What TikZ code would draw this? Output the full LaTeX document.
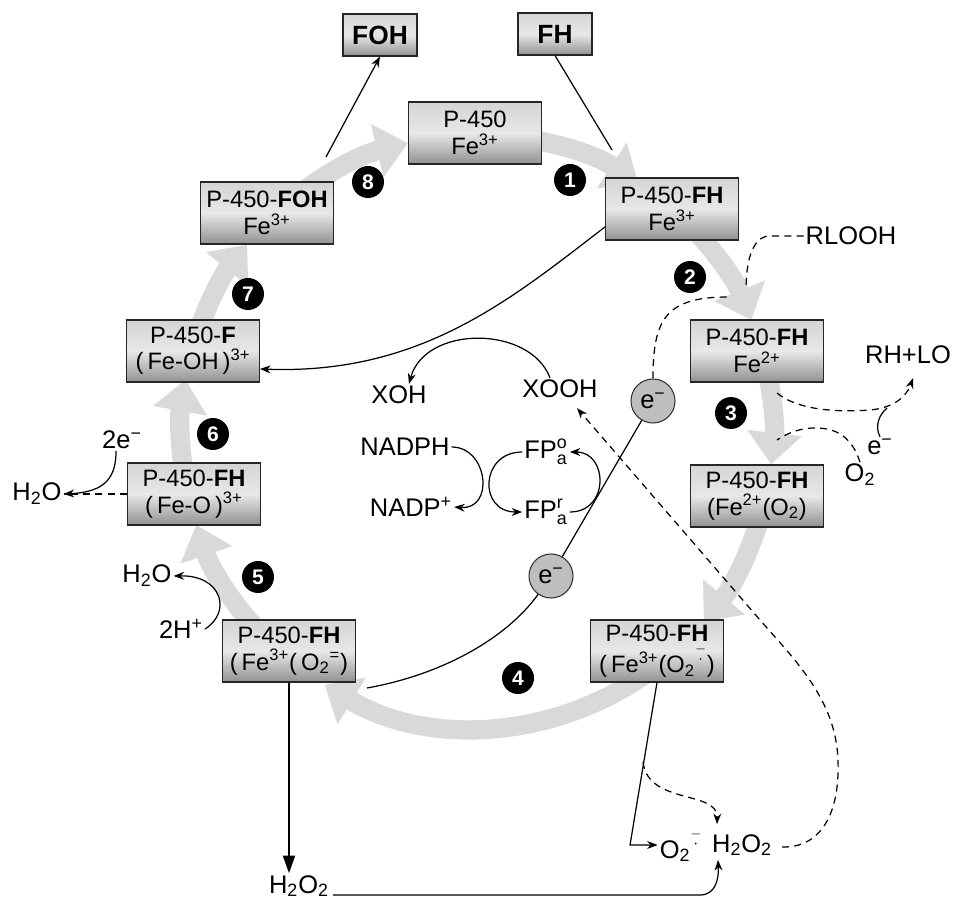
\documentclass[tikz,border=0pt]{standalone}
\usepackage{amsmath}
\usepackage{fontspec}
\setmainfont{Liberation Sans}
\usepackage{tikz}
\usetikzlibrary{arrows.meta, positioning, calc}
\definecolor{ringgray}{RGB}{217,217,217}
\definecolor{boxtop}{RGB}{212,212,212}
\definecolor{boxmid}{RGB}{232,232,232}
\definecolor{boxbot}{RGB}{145,145,145}
\definecolor{elecfill}{RGB}{190,190,190}
\newcommand\boxfont{\fontsize{13.5}{15}\selectfont}
\newcommand\lblfont{\fontsize{14.5}{16}\selectfont}
\newcommand\radminus{$^{\overset{-}{\cdot}}$}
\tikzset{
  enz/.style={
    rectangle, draw=black!85, line width=0.6pt,
    top color=boxtop, bottom color=boxbot, middle color=boxmid,
    minimum width=2.66cm, minimum height=1.24cm,
    inner sep=1pt, align=center, font=\boxfont
  },
  prod/.style={enz, minimum width=1.48cm, minimum height=0.84cm,
    font=\bfseries\fontsize{15}{16}\selectfont},
  num/.style={circle, fill=black, text=white, minimum size=0.64cm,
    inner sep=0pt, font=\bfseries\fontsize{12}{12}\selectfont},
  elec/.style={circle, draw=black!80, fill=elecfill, line width=0.6pt,
    minimum size=0.88cm, inner sep=0pt, font=\lblfont},
  lbl/.style={inner sep=1pt, font=\lblfont},
  ring/.style={draw=ringgray, line width=11pt,
    -{Triangle[width=30pt,length=18pt]}},
  ln/.style={line width=0.7pt},
  arr/.style={ln, -{Stealth[length=6pt,width=4.5pt]}},
  darr/.style={arr, dash pattern=on 4pt off 3pt},
  dsh/.style={ln, dash pattern=on 4pt off 3pt},
  bigarr/.style={ln, -{Triangle[length=10pt,width=7pt]}}
}
\begin{document}
\begin{tikzpicture}[x=0.02cm, y=-0.02cm]
  \useasboundingbox (0,0) rectangle (953,901);

  \coordinate (ctr) at (477,431);
  \foreach \a/\b in {-90/-57, -48.7/-22, -16/6.5, 13/40, 50.7/121,
                     130.5/161.5, 167.4/190, 195.7/219, 226/256.5}
    \draw[ring] (ctr) ++(\a:296) arc[start angle=\a, end angle=\b, radius=296];

  \node[prod] (foh) at (380,35) {FOH};
  \node[prod] (fh)  at (555,34) {FH};

  \node[enz] (p0) at (475,133) {P-450\\Fe\textsuperscript{3+}};
  \node[enz] (p1) at (672,209) {P-450-\textbf{FH}\\Fe\textsuperscript{3+}};
  \node[enz] (p2) at (757,351) {P-450-\textbf{FH}\\Fe\textsuperscript{2+}};
  \node[enz] (p3) at (757,496) {P-450-\textbf{FH}\\(Fe\textsuperscript{2+}(O\textsubscript{2})};
  \node[enz] (p4) at (657,651) {P-450-\textbf{FH}\\(\,Fe\textsuperscript{3+}(O\textsubscript{2}\radminus)};
  \node[enz] (p5) at (289,651) {P-450-\textbf{FH}\\(\,Fe\textsuperscript{3+}(\,O\textsubscript{2}\textsuperscript{=})};
  \node[enz] (p6) at (194,494) {P-450-\textbf{FH}\\(\,Fe-O\,)\textsuperscript{3+}};
  \node[enz] (p7) at (193,351) {P-450-\textbf{F}\\(\,Fe-OH\,)\textsuperscript{3+}};
  \node[enz] (p8) at (267,213) {P-450-\textbf{FOH}\\Fe\textsuperscript{3+}};

  \foreach \n/\x/\y in {1/570/180, 2/690/277, 3/731/413, 4/518/678,
                        5/258/577, 6/213/434, 7/248/294, 8/368/182}
    \node[num] (n\n) at (\x,\y) {\n};

  \node[lbl] (rlooh) at (851,236) {RLOOH};
  \node[lbl] (rhlo)  at (908,355) {RH+LO};
  \node[lbl] (eo2)   at (880,447) {e\textsuperscript{−}};
  \node[lbl] (o2)    at (860,475) {O\textsubscript{2}};
  \node[elec] (eup)  at (653,401) {e\textsuperscript{−}};
  \node[elec] (elo)  at (551,576) {e\textsuperscript{−}};
  \node[lbl] (xoh)   at (399,395) {XOH};
  \node[lbl] (xooh)  at (560,389) {XOOH};
  \node[lbl] (nadph) at (405,447) {NADPH};
  \node[lbl] (nadp)  at (411,507) {NADP\textsuperscript{+}};
  \node[lbl] (fpo)   at (546,452) {FP$^{\text{o}}_{\text{a}}$};
  \node[lbl] (fpr)   at (546,512) {FP$^{\text{r}}_{\text{a}}$};
  \node[lbl] (twoe)  at (122,440) {2e\textsuperscript{−}};
  \node[lbl] (h2ol)  at (37,494)  {H\textsubscript{2}O};
  \node[lbl] (h2ou)  at (147,576) {H\textsubscript{2}O};
  \node[lbl] (twoh)  at (181,629) {2H\textsuperscript{+}};
  \node[lbl] (h2ob)  at (299,886) {H\textsubscript{2}O\textsubscript{2}};
  \node[lbl] (o2m)   at (681,845) {O\textsubscript{2}\radminus};
  \node[lbl] (h2or)  at (742,845) {H\textsubscript{2}O\textsubscript{2}};

  \coordinate (c8)  at (326,157);
  \coordinate (c1)  at (612,150);
  \coordinate (c2)  at (728,297);
  \coordinate (c2b) at (746,290);
  \coordinate (c3a) at (777,393);
  \coordinate (c3b) at (777,440);
  \coordinate (c3e) at (887,408);
  \coordinate (c4)  at (367,688);
  \coordinate (c5)  at (643,762);

  \draw[arr] (c8) -- (foh.south);
  \draw[ln] (fh.south) -- (c1);
  \draw[arr] (p1.195) .. controls (510,300) and (420,375) .. (p7.-15);
  \draw[arr] ($(xooh.north)+(-10,0)$) .. controls (530,325) and (425,325) .. ($(xoh.north)+(10,0)$);

  \draw[arr] (nadph.east) .. controls (488,447) and (495,510) .. (nadp.east);
  \draw[arr] (fpo.west) .. controls (480,452) and (478,512) .. (fpr.west);
  \draw[arr] (fpr.east) .. controls (610,512) and (608,452) .. (fpo.east);

  \draw[ln] (elo) -- (eup);
  \draw[ln] (elo.235) .. controls (505,640) and (440,675) .. (c4);
  \draw[dsh] (eup.north) .. controls (653,320) and (665,297) .. (c2);
  \draw[dsh] (rlooh.west) -- (770,236) .. controls (752,236) and (746,262) .. (c2b);

  \draw[darr] (c3a) .. controls (800,412) and (845,412) .. (870,410)
              .. controls (892,408) and (906,398) .. ($(rhlo.south)+(5,12)$);
  \draw[ln] (eo2.north) .. controls (874,425) and (880,414) .. (c3e);
  \draw[dsh] (o2.north) .. controls (852,438) and (838,428) .. (815,428)
             .. controls (797,428) and (785,435) .. (c3b);

  \draw[arr] ($(twoe.south)+(-6,0)$) .. controls (116,478) and (105,492) .. (h2ol.east);
  \draw[dsh] (p6.west) -- (h2ol.east);
  \draw[arr] (twoh.east) .. controls (232,612) and (222,575) .. (h2ou.east);

  \draw[bigarr] (p5.south) -- (p5.south |- h2ob.north);
  \draw[arr] ($(h2ob.east)+(2,9)$) -- (700,895) .. controls (715,895) and (719,880) .. ($(h2or.south west)+(8,2)$);
  \draw[arr] (p4.south) -- (630,845) -- (o2m.west);
  \draw[darr] (c5) .. controls (648,805) and (718,790) .. ($(h2or.north west)+(7,-8)$);
  \draw[darr] ($(h2or.east)+(8,2)$) .. controls (820,848) and (840,815) .. (838,760)
              .. controls (836,700) and (795,660) .. (760,620) -- ($(xooh.south)+(17,8)$);
\end{tikzpicture}
\end{document}
